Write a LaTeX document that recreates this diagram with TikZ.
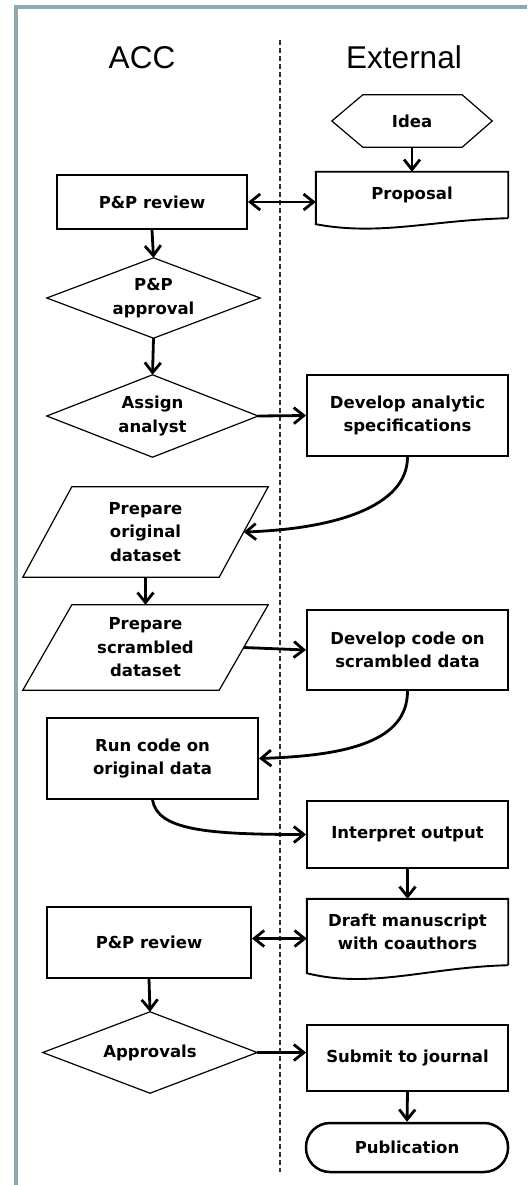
\documentclass[tikz,border=0pt]{standalone}
\usepackage{fontspec}
\newfontfamily\lblfont{DejaVu Sans}
\newfontfamily\hdrfont{Liberation Sans}
\usetikzlibrary{arrows.meta}
\definecolor{framecol}{RGB}{143,170,175}
\begin{document}
\begin{tikzpicture}[x=1pt,y=-1pt,
  lbl/.style={font=\lblfont\bfseries\fontsize{16.5}{23.5}\selectfont, align=center, inner sep=0pt},
  rbox/.style={lbl, draw, line width=1.9pt, rectangle},
  ghost/.style={lbl, rectangle},
  thinline/.style={line width=1.2pt, line join=miter},
  thickline/.style={line width=1.9pt},
  arr/.style={line width=2.8pt, -{Straight Barb[length=10pt,width=16pt]}},
  darr/.style={line width=2.8pt, {Straight Barb[length=10pt,width=16pt]}-{Straight Barb[length=10pt,width=16pt]}},
  hdr/.style={font=\hdrfont\fontsize{31.5}{36}\selectfont, anchor=base, inner sep=0pt},
  lane/.style={line width=1.3pt, black!80, dash pattern=on 5pt off 3pt},
  frame/.style={line width=4pt, framecol}
]
\useasboundingbox (0,0) rectangle (527,1185);
\draw[frame] (527,7) -- (16,7) -- (16,1185);

\node[hdr] (acc) at (142,69) {ACC};
\node[hdr] (ext) at (404,69) {External};
\coordinate (laneTop) at (280,40);
\coordinate (laneBot) at (280,1172);
\draw[lane] (laneTop) -- (laneBot);

% Idea hexagon
\node[ghost, minimum width=160pt, minimum height=52pt] (idea) at (412,121) {Idea};
\draw[thinline] (idea.west) -- ([xshift=31pt]idea.north west) -- ([xshift=-30pt]idea.north east) -- (idea.east) -- ([xshift=-30pt]idea.south east) -- ([xshift=31pt]idea.south west) -- cycle;

% Proposal document
\node[ghost, minimum width=192pt, minimum height=46pt] (prop) at (412,195) {Proposal};
\draw[thickline] (prop.south east) -- (prop.north east) -- (prop.north west) -- ([yshift=-6pt]prop.south west) .. controls +(64,12) and +(-78,2) .. (prop.south east);

\node[rbox, minimum width=190pt, minimum height=54pt] (pp1) at (152,202) {P\&P review};

\node[ghost, minimum width=213pt, minimum height=80pt] (appr1) at (153.5,298) {P\&P\\approval};
\draw[thinline] (appr1.north) -- (appr1.east) -- (appr1.south) -- (appr1.west) -- cycle;

\node[ghost, minimum width=211pt, minimum height=82pt] (assign) at (152.5,416) {Assign\\analyst};
\draw[thinline] (assign.north) -- (assign.east) -- (assign.south) -- (assign.west) -- cycle;

\node[rbox, minimum width=201pt, minimum height=81pt] (spec) at (407.5,415.5) {Develop analytic\\specifications};

\node[ghost, minimum width=245pt, minimum height=90pt] (orig) at (145.5,532) {Prepare\\original\\dataset};
\draw[thinline] ([xshift=49pt]orig.north west) -- (orig.north east) -- ([xshift=-49pt]orig.south east) -- (orig.south west) -- cycle;

\node[ghost, minimum width=245pt, minimum height=85pt] (scr) at (145.5,647.5) {Prepare\\scrambled\\dataset};
\draw[thinline] ([xshift=49pt]scr.north west) -- (scr.north east) -- ([xshift=-49pt]scr.south east) -- (scr.south west) -- cycle;

\node[rbox, minimum width=201pt, minimum height=80pt] (code) at (407.5,650) {Develop code on\\scrambled data};
\node[rbox, minimum width=211pt, minimum height=81pt] (run) at (152.5,758.5) {Run code on\\original data};
\node[rbox, minimum width=201pt, minimum height=67pt] (interp) at (407.5,834.5) {Interpret output};

% Draft document
\node[ghost, minimum width=201pt, minimum height=66pt] (draft) at (407.5,932) {Draft manuscript\\with coauthors};
\draw[thickline] (draft.south east) -- (draft.north east) -- (draft.north west) -- ([yshift=-8pt]draft.south west) .. controls +(64,16) and +(-80,2) .. (draft.south east);

\node[rbox, minimum width=204pt, minimum height=71pt] (pp2) at (149,942.5) {P\&P review};

\node[ghost, minimum width=214pt, minimum height=81pt] (apprs) at (150,1052.5) {Approvals};
\draw[thinline] (apprs.north) -- (apprs.east) -- (apprs.south) -- (apprs.west) -- cycle;

\node[rbox, minimum width=201pt, minimum height=66pt] (submit) at (407.5,1058) {Submit to journal};
\node[lbl, draw, line width=2.5pt, rounded corners=24pt, minimum width=202pt, minimum height=49pt] (pub) at (407,1147.5) {Publication};

% connectors
\draw[arr] (idea.south) -- (prop.north);
\draw[darr] (pp1.east) -- (pp1.east -| prop.west);
\draw[arr] (pp1.south) -- (appr1.north);
\draw[arr] (appr1.south) -- (assign.north);
\draw[arr] (assign.east) -- (spec.west);
\coordinate (origR) at ([xshift=-24.5pt]orig.east);
\draw[arr] (spec.south) .. controls +(0,50) and +(90,-3) .. (origR);
\draw[arr] (orig.south) -- (scr.north);
\coordinate (scrR) at ([xshift=-24.5pt]scr.east);
\draw[arr] (scrR) -- (code.west);
\draw[arr] (code.south) .. controls +(0,50) and +(90,-3) .. (run.east);
\draw[arr] (run.south) .. controls +(5,30) and +(-100,0) .. (interp.west);
\draw[arr] (interp.south) -- (draft.north);
\coordinate (pp2a) at ([yshift=4pt]pp2.east);
\draw[darr] (pp2a) -- (pp2a -| draft.west);
\draw[arr] (pp2.south) -- (apprs.north);
\draw[arr] (apprs.east) -- (apprs.east -| submit.west);
\draw[arr] (submit.south) -- (pub.north);
\end{tikzpicture}
\end{document}
